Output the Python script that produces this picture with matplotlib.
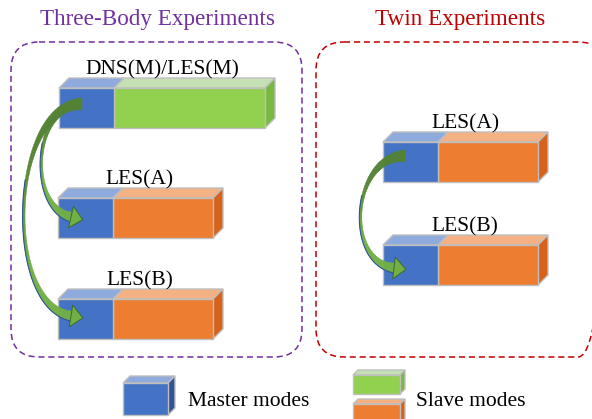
import matplotlib
matplotlib.use("Agg")
import numpy as np
import matplotlib.pyplot as plt
from matplotlib.patches import Polygon, FancyBboxPatch
from matplotlib.colors import to_rgb

plt.rcParams['font.family'] = ['Liberation Serif', 'DejaVu Serif']

# diagram content
group_titles = ["Three-Body Experiments", "Twin Experiments"]
group_colors = ["#7030A0", "#C00000"]
three_body_models = ["DNS(M)/LES(M)", "LES(A)", "LES(B)"]
three_body_slave = ["green", "orange", "orange"]
twin_models = ["LES(A)", "LES(B)"]
twin_slave = ["orange", "orange"]
legend_labels = ["Master modes", "Slave modes"]

shades = {
    "blue": ("#4472C4", "#8FAADC", "#2F5597"),
    "green": ("#92D050", "#C5E0B4", "#7AB940"),
    "orange": ("#ED7D31", "#F4B183", "#D6621C"),
}
edge = "#BFBFBF"


def face(ax, pts, color):
    ax.add_patch(Polygon(pts, closed=True, fc=color, ec=edge, lw=1.0, joinstyle="miter"))


def block(ax, x, y, w, h, d, kind, side=True):
    front, top, right = shades[kind]
    face(ax, [(x, y), (x + d, y - d), (x + w + d, y - d), (x + w, y)], top)
    if side:
        face(ax, [(x + w, y), (x + w + d, y - d), (x + w + d, y + h - d), (x + w, y + h)], right)
    face(ax, [(x, y), (x + w, y), (x + w, y + h), (x, y + h)], front)


def bar(ax, x, y, label, slave, master_w=55, slave_w=100, h=40, d=10, label_dx=82):
    block(ax, x + master_w, y, slave_w, h, d, slave)
    block(ax, x, y, master_w, h, d, "blue", side=False)
    ax.text(x + label_dx, y - 14, label, ha="center", va="baseline", fontsize=15.5, color="black")


def curved_arrow(ax, p0, p1, p2, p3, w0=12, wm=2.5, w1=10, head_w=22, head_l=12):
    t = np.linspace(0, 1, 90)[:, None]
    P = [np.array(p, float) for p in (p0, p1, p2, p3)]
    c = (1 - t) ** 3 * P[0] + 3 * (1 - t) ** 2 * t * P[1] + 3 * (1 - t) * t ** 2 * P[2] + t ** 3 * P[3]
    dc = 3 * (1 - t) ** 2 * (P[1] - P[0]) + 6 * (1 - t) * t * (P[2] - P[1]) + 3 * t ** 2 * (P[3] - P[2])
    tang = dc / np.linalg.norm(dc, axis=1, keepdims=True)
    norm = np.column_stack([-tang[:, 1], tang[:, 0]])
    tt = t[:, 0]
    w = w0 * (1 - tt) ** 2 + 2 * (2 * wm - 0.5 * (w0 + w1)) * tt * (1 - tt) + w1 * tt ** 2
    w = np.maximum(w, 1.2)
    a = c + norm * (w / 2)[:, None]
    b = c - norm * (w / 2)[:, None]
    dark, light = np.array(to_rgb("#548235")), np.array(to_rgb("#72B046"))
    for i in range(len(tt) - 1):
        col = dark + (light - dark) * np.clip((tt[i] - 0.3) * 2.5, 0, 1)
        ax.add_patch(Polygon([a[i], a[i + 1], b[i + 1], b[i]], closed=True, fc=col, ec=col,
                             lw=0.3, zorder=5))
    half = len(tt) // 2
    ax.plot(a[half - 8:, 0], a[half - 8:, 1], color="#2F5597", lw=0.8, zorder=6)
    end, d, n = c[-1], tang[-1], norm[-1]
    head = [end + n * head_w / 2, end + d * head_l, end - n * head_w / 2]
    ax.add_patch(Polygon(head, closed=True, fc="#72B046", ec="#3B6B2A", lw=0.7, zorder=6))


fig = plt.figure(figsize=(5.92, 4.19), dpi=100)
ax = fig.add_axes([0, 0, 1, 1])
ax.set_xlim(0, 592)
ax.set_ylim(419, 0)
ax.axis("off")

# group frames
ax.add_patch(FancyBboxPatch((11, 42), 291, 315, boxstyle="round,pad=0,rounding_size=28",
                            fill=False, ec=group_colors[0], lw=1.1, ls=(0, (4, 2.5))))
ax.add_patch(FancyBboxPatch((316, 42), 290, 315, boxstyle="round,pad=0,rounding_size=28",
                            fill=False, ec=group_colors[1], lw=1.1, ls=(0, (4, 2.5))))
ax.text(158, 25, group_titles[0], ha="center", va="baseline", fontsize=16.7, color=group_colors[0])
ax.text(460, 25, group_titles[1], ha="center", va="baseline", fontsize=16.7, color=group_colors[1])

# three-body bars
left_rows = [88, 198, 299]
for yy, lab, sl in zip(left_rows, three_body_models, three_body_slave):
    if lab.startswith("DNS"):
        bar(ax, 59, yy, lab, sl, master_w=55, slave_w=151, label_dx=103)
    else:
        bar(ax, 58, yy, lab, sl, master_w=55, slave_w=100, label_dx=82)

# twin bars
right_rows = [142, 245]
for yy, lab, sl in zip(right_rows, twin_models, twin_slave):
    bar(ax, 383, yy, lab, sl, master_w=55, slave_w=100, label_dx=82)

# synchronisation arrows
curved_arrow(ax, (82, 104), (10, 104), (3, 305), (71, 316))
curved_arrow(ax, (82, 104), (33, 104), (27, 207), (71, 217))
curved_arrow(ax, (405, 156), (352, 156), (344, 262), (394, 268))

# legend
block(ax, 123, 383, 45, 32, 7, "blue")
ax.text(188, 406, legend_labels[0], ha="left", va="baseline", fontsize=15.5)
block(ax, 353, 375, 47, 19, 5, "green")
block(ax, 353, 404, 47, 20, 5, "orange")
ax.text(416, 406, legend_labels[1], ha="left", va="baseline", fontsize=15.5)

fig.savefig("out.png", dpi=100)
